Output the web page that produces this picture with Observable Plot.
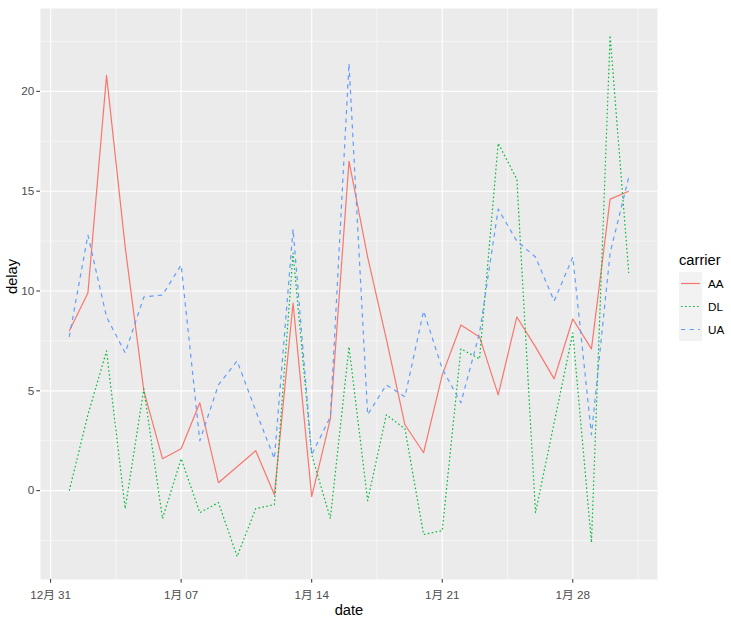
<!DOCTYPE html>
<html><head><meta charset="utf-8">
<script src="https://cdn.jsdelivr.net/npm/d3@7"></script>
<script src="https://cdn.jsdelivr.net/npm/@observablehq/plot@0.6"></script>
<style>
body{margin:0;background:#fff;}
#wrap{position:relative;width:731px;height:618px;font-family:"Liberation Sans",Arial,"Noto Sans CJK SC",sans-serif;}
#wrap svg{font-family:"Liberation Sans",Arial,"Noto Sans CJK SC",sans-serif;}
#legend{position:absolute;left:679px;top:250px;font-family:"Liberation Sans",Arial,sans-serif;}
#legend .title{font-size:14.7px;color:#000;height:22px;line-height:20px;}
#legend .row{display:flex;align-items:center;height:23px;}
#legend .key{width:23px;height:23px;background:#F2F2F2;}
#legend .lab{font-size:11.7px;color:#000;margin-left:6px;}
</style></head><body>
<div id="wrap"><div id="legend"></div></div>
<script>
const dates = ["2013-01-01","2013-01-02","2013-01-03","2013-01-04","2013-01-05","2013-01-06","2013-01-07","2013-01-08","2013-01-09","2013-01-10","2013-01-11","2013-01-12","2013-01-13","2013-01-14","2013-01-15","2013-01-16","2013-01-17","2013-01-18","2013-01-19","2013-01-20","2013-01-21","2013-01-22","2013-01-23","2013-01-24","2013-01-25","2013-01-26","2013-01-27","2013-01-28","2013-01-29","2013-01-30","2013-01-31"];
const carriers = ["AA","DL","UA"];
const aaDelay = [8.0,9.9,20.8,12.2,5.0,1.6,2.1,4.4,0.4,1.2,2.0,-0.2,9.4,-0.3,3.6,16.5,11.7,7.6,3.3,1.9,5.8,8.3,7.7,4.8,8.7,7.2,5.6,8.6,7.1,14.6,15.0];
const dlDelay = [0.0,3.8,7.0,-0.9,5.1,-1.4,1.6,-1.1,-0.6,-3.3,-0.9,-0.7,11.9,1.8,-1.4,7.2,-0.5,3.8,3.1,-2.2,-2.0,7.1,6.6,17.4,15.6,-1.1,3.4,7.9,-2.6,22.8,10.9];
const uaDelay = [7.7,12.8,8.7,6.9,9.7,9.8,11.3,2.5,5.3,6.5,4.0,1.6,13.1,1.8,3.7,21.4,3.8,5.3,4.7,9.0,6.1,4.4,7.9,14.1,12.5,11.7,9.5,11.7,2.8,11.9,15.7];
const colors = ["#F8766D","#00BA38","#619CFF"];
const dashes = [null,"1.6,2.4","4.3,4.3"];
const xTicks = ["2012-12-31","2013-01-07","2013-01-14","2013-01-21","2013-01-28"];
const xMinor = ["2013-01-03T12:00Z","2013-01-10T12:00Z","2013-01-17T12:00Z","2013-01-24T12:00Z","2013-01-31T12:00Z"];
const yTicks = [0,5,10,15,20];
const yMinor = [-2.5,2.5,7.5,12.5,17.5,22.5];
const xDomain = ["2012-12-30T11:00Z","2013-02-01T13:00Z"];
const yDomain = [-4.45, 24.15];

const series = [aaDelay, dlDelay, uaDelay];
const rows = [];
carriers.forEach((c, i) => dates.forEach((d, j) => rows.push({carrier: c, date: new Date(d + "T00:00Z"), delay: series[i][j]})));
const toDate = s => new Date(s.length === 10 ? s + "T00:00Z" : s);
const fmt = d => `${d.getUTCMonth() + 1}月 ${String(d.getUTCDate()).padStart(2, "0")}`;

const lineMarks = carriers.map((c, i) => Plot.lineY(rows.filter(r => r.carrier === c), {
  x: "date", y: "delay", stroke: colors[i], strokeWidth: 1.2,
  strokeDasharray: dashes[i] || undefined, strokeLinejoin: "round", strokeLinecap: "butt"
}));

const chart = Plot.plot({
  width: 731, height: 618,
  marginLeft: 40, marginRight: 74, marginTop: 8, marginBottom: 39,
  style: {background: "white", fontFamily: '"Liberation Sans", Arial, "Noto Sans CJK SC", sans-serif'},
  x: {type: "utc", domain: xDomain.map(toDate)},
  y: {domain: yDomain},
  marks: [
    Plot.frame({fill: "#EBEBEB", stroke: null}),
    Plot.gridY(yMinor, {stroke: "white", strokeOpacity: 1, strokeWidth: 0.55}),
    Plot.gridX(xMinor.map(toDate), {stroke: "white", strokeOpacity: 1, strokeWidth: 0.55}),
    Plot.gridY(yTicks, {stroke: "white", strokeOpacity: 1, strokeWidth: 1.1}),
    Plot.gridX(xTicks.map(toDate), {stroke: "white", strokeOpacity: 1, strokeWidth: 1.1}),
    ...lineMarks,
    Plot.axisY(yTicks, {tickSize: 3.7, tickPadding: 2.5, fontSize: 11.7, fill: "#4D4D4D", stroke: "#333333", label: null}),
    Plot.axisX(xTicks.map(toDate), {tickSize: 3.7, tickPadding: 7.5, fontSize: 11.7, fill: "#4D4D4D", stroke: "#333333", tickFormat: fmt, label: null}),
    Plot.text(["date"], {text: d => d, frameAnchor: "bottom", dy: 31, fontSize: 14.7, fill: "black", lineAnchor: "middle"}),
    Plot.text(["delay"], {text: d => d, frameAnchor: "left", dx: -28, rotate: -90, fontSize: 14.7, fill: "black", lineAnchor: "middle"})
  ]
});
document.getElementById("wrap").prepend(chart);

const legend = document.getElementById("legend");
const t = document.createElement("div"); t.className = "title"; t.textContent = "carrier"; legend.appendChild(t);
carriers.forEach((c, i) => {
  const row = document.createElement("div"); row.className = "row";
  const key = document.createElement("div"); key.className = "key";
  key.innerHTML = `<svg width="23" height="23"><line x1="2" x2="21" y1="11.5" y2="11.5" stroke="${colors[i]}" stroke-width="1.2" ${dashes[i] ? `stroke-dasharray="${dashes[i]}"` : ""}/></svg>`;
  const lab = document.createElement("div"); lab.className = "lab"; lab.textContent = c;
  row.appendChild(key); row.appendChild(lab); legend.appendChild(row);
});
</script>
</body></html>
